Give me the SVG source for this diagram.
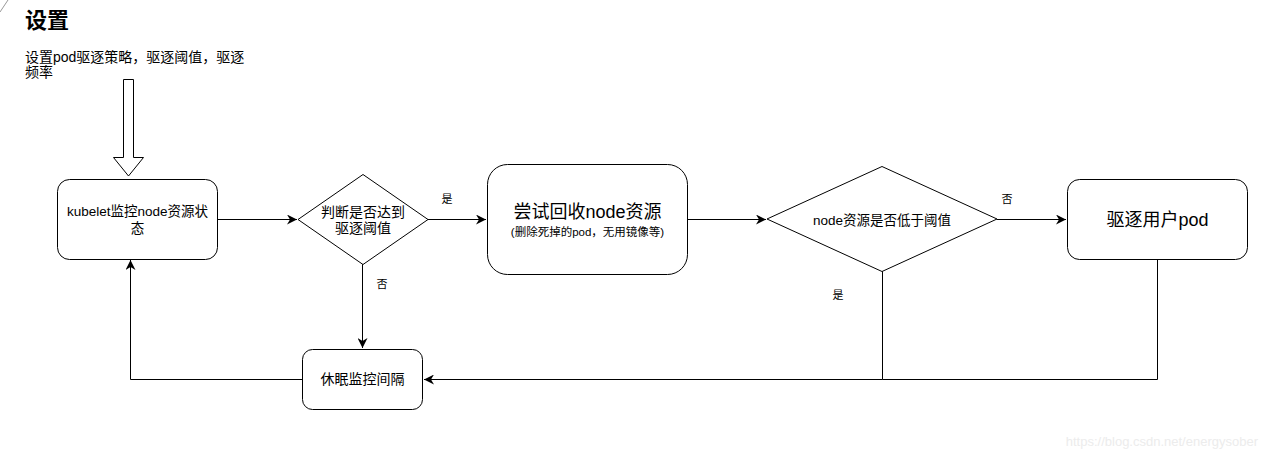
<svg xmlns="http://www.w3.org/2000/svg" width="1269" height="458" viewBox="0 0 1269 458">
<style>
.box{fill:#fff;stroke:#000;stroke-width:1}
.ln{fill:none;stroke:#000;stroke-width:1}
.t{font-family:"Liberation Sans","Noto Sans CJK SC",sans-serif;fill:#000}
</style>
<defs>
<marker id="ah" viewBox="0 0 10 10" refX="10" refY="5" markerWidth="10" markerHeight="10" markerUnits="userSpaceOnUse" orient="auto">
<path d="M0,0 L10,5 L0,10 L3,5 Z" fill="#000"/>
</marker>
</defs>
<rect width="1269" height="458" fill="#fff"/>
<line x1="0" y1="12" x2="8" y2="0" stroke="#999" stroke-width="1"/>
<g id="header">
<text class="t" x="25" y="28" font-size="22" font-weight="bold">设置</text>
<text class="t" x="25" y="62" font-size="14">设置pod驱逐策略，驱逐阈值，驱逐</text>
<text class="t" x="25" y="77" font-size="14">频率</text>
<path class="ln" d="M123.5,79.5 H133.5 V157.5 H143.5 L128.5,176 L113.5,157.5 H123.5 Z" fill="#fff"/>
</g>
<g id="connectors">
<line class="ln" x1="217" y1="219.5" x2="297" y2="219.5" marker-end="url(#ah)"/>
<line class="ln" x1="428" y1="219.5" x2="486" y2="219.5" marker-end="url(#ah)"/>
<text class="t" x="447" y="203" font-size="11" text-anchor="middle">是</text>
<line class="ln" x1="688" y1="219.5" x2="766" y2="219.5" marker-end="url(#ah)"/>
<line class="ln" x1="997" y1="219.5" x2="1066" y2="219.5" marker-end="url(#ah)"/>
<text class="t" x="1007" y="203" font-size="11" text-anchor="middle">否</text>
<line class="ln" x1="362.5" y1="264" x2="362.5" y2="348" marker-end="url(#ah)"/>
<text class="t" x="382" y="288" font-size="11" text-anchor="middle">否</text>
<path class="ln" d="M882.5,271 V379.5 H424" marker-end="url(#ah)"/>
<text class="t" x="838" y="299" font-size="11" text-anchor="middle">是</text>
<path class="ln" d="M1157.5,259 V379.5 H882.5"/>
<path class="ln" d="M302,379.5 H130.5 V260" marker-end="url(#ah)"/>
</g>
<g id="kubelet">
<rect class="box" x="57.5" y="179.5" width="160" height="80" rx="12"/>
<text class="t" x="137.5" y="216" font-size="13.5" text-anchor="middle">kubelet监控node资源状</text>
<text class="t" x="137.5" y="233" font-size="13.5" text-anchor="middle">态</text>
</g>
<g id="decision1">
<polygon class="box" points="363,174.5 428,219.5 363,264.5 298,219.5"/>
<text class="t" x="363" y="217" font-size="14" text-anchor="middle">判断是否达到</text>
<text class="t" x="363" y="233" font-size="14" text-anchor="middle">驱逐阈值</text>
</g>
<g id="reclaim">
<rect class="box" x="487.5" y="164.5" width="200" height="110" rx="20"/>
<text class="t" x="587.5" y="218" font-size="18" text-anchor="middle">尝试回收node资源</text>
<text class="t" x="587.5" y="236" font-size="11.5" text-anchor="middle">(删除死掉的pod，无用镜像等)</text>
</g>
<g id="decision2">
<polygon class="box" points="882,166.5 997,219 882,271.5 767,219"/>
<text class="t" x="882" y="225" font-size="13.5" text-anchor="middle">node资源是否低于阈值</text>
</g>
<g id="evict">
<rect class="box" x="1067.5" y="179.5" width="180" height="80" rx="12"/>
<text class="t" x="1157.5" y="226" font-size="18" text-anchor="middle">驱逐用户pod</text>
</g>
<g id="sleep">
<rect class="box" x="302.5" y="349.5" width="120" height="60" rx="10"/>
<text class="t" x="362.5" y="384" font-size="14" text-anchor="middle">休眠监控间隔</text>
</g>
<text x="1258" y="446" font-family="Liberation Sans, sans-serif" font-size="13" fill="#ececec" text-anchor="end">https://blog.csdn.net/energysober</text>
</svg>
